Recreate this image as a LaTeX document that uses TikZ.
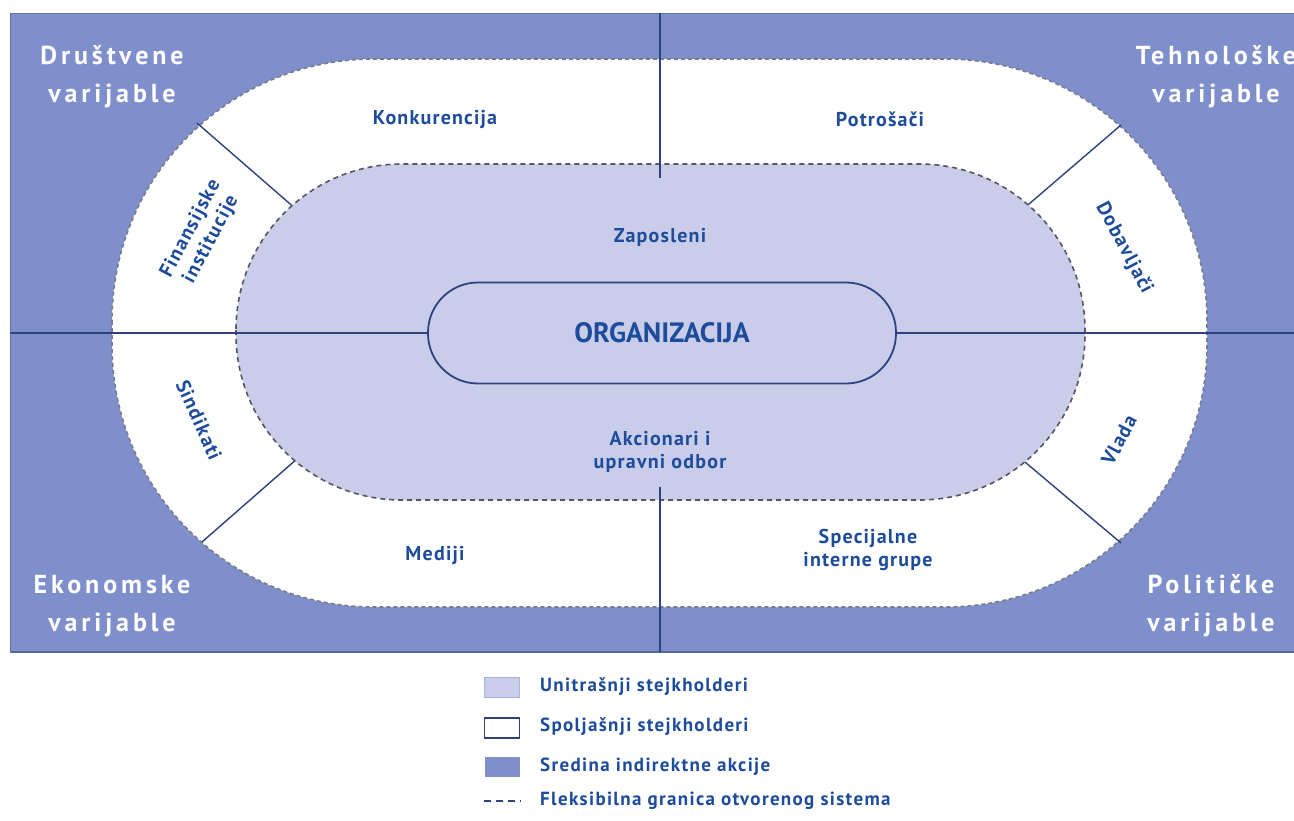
\documentclass[tikz,border=0pt]{standalone}
\usepackage{fontspec}
\setmainfont[BoldFont={PT Sans Bold}]{PT Sans}
\newfontfamily\labelfont[LetterSpace=6]{PT Sans Bold}
\newfontfamily\legendfont[LetterSpace=7]{PT Sans Bold}
\newfontfamily\widefont[LetterSpace=15]{PT Sans Bold}
\newfontfamily\orgfont{PT Sans Bold}
\definecolor{envblue}{RGB}{127,143,203}
\definecolor{innerfill}{RGB}{201,205,233}
\definecolor{labelblue}{RGB}{30,76,156}
\definecolor{rulecol}{RGB}{46,66,130}
\definecolor{dashgray}{RGB}{120,124,140}
\begin{document}
\begin{tikzpicture}[x=1pt,y=-1pt,
  inlabel/.style={font=\labelfont\fontsize{20}{23}\selectfont, text=labelblue, align=center, inner sep=0pt},
  varlabel/.style={font=\widefont\fontsize{26}{38}\selectfont, text=white, align=center, inner sep=0pt},
  legtext/.style={font=\legendfont\fontsize{19}{22}\selectfont, text=labelblue, anchor=west, inner sep=0pt},
  divider/.style={draw=rulecol, line width=1.4pt},
  swatch/.style={minimum width=35pt, minimum height=20pt, inner sep=0pt}
]
\useasboundingbox (0,0) rectangle (1294,820);
\fill[white] (0,0) rectangle (1294,820);

% environment of indirect action
\fill[envblue] (10,13) rectangle (1294,652);
\draw[rulecol!80, line width=1.2pt] (10,652) -- (1294,652);
\draw[envblue!80!black, line width=0.8pt] (10,13) -- (1294,13);
\draw[envblue!80!black, line width=0.8pt] (10,13) -- (10,652);

% external stakeholders ring
\path[fill=white, draw=dashgray, line width=1.6pt, dash pattern=on 4pt off 3pt, rounded corners=262pt]
  (112,59) rectangle (1207,607);

% dividers between external stakeholders
\coordinate (tlA) at (197,123); \coordinate (tlB) at (297,210);
\coordinate (trA) at (1121,125); \coordinate (trB) at (1022,210);
\coordinate (blA) at (202,542); \coordinate (blB) at (298,458);
\coordinate (brA) at (1121,543); \coordinate (brB) at (1019,457);
\draw[divider] (tlA) -- (tlB);
\draw[divider] (trA) -- (trB);
\draw[divider] (blA) -- (blB);
\draw[divider] (brA) -- (brB);

% internal stakeholders
\path[fill=innerfill, draw=dashgray!70!black, line width=1.6pt, dash pattern=on 5pt off 4pt, rounded corners=166pt]
  (236,164) rectangle (1085,500);

% organization
\node[draw=rulecol, line width=1.8pt, rounded corners=50pt, minimum width=468pt, minimum height=101pt,
  font=\orgfont\fontsize{28}{30}\selectfont, text=labelblue] (org) at (662,333) {ORGANIZACIJA};

% axes
\coordinate (left) at (10,333); \coordinate (right) at (1294,333);
\coordinate (top) at (660,13); \coordinate (topend) at (660,178);
\coordinate (botstart) at (660,487); \coordinate (bottom) at (660,652);
\draw[divider] (left) -- (org.west);
\draw[divider] (org.east) -- (right);
\draw[divider] (top) -- (topend);
\draw[divider] (botstart) -- (bottom);

% external stakeholder labels
\node[inlabel] (konk) at (435,119) {Konkurencija};
\node[inlabel] (potr) at (880,119) {Potrošači};
\node[inlabel] (mediji) at (435,555) {Mediji};
\node[inlabel] (spec) at (868,550) {Specijalne\\interne grupe};
\node[inlabel, rotate=62] (fin) at (201,234) {Finansijske\\institucije};
\node[inlabel, rotate=-62] (dob) at (1124,248) {Dobavljači};
\node[inlabel, rotate=-66] (sind) at (199,420) {Sindikati};
\node[inlabel, rotate=62] (vlada) at (1119,440) {Vlada};

% internal stakeholder labels
\node[inlabel] (zap) at (660,237) {Zaposleni};
\node[inlabel] (akc) at (660,452) {Akcionari i\\upravni odbor};

% variable groups
\node[varlabel] (drus) at (112,77) {Društvene\\varijable};
\node[varlabel] (teh) at (1216,77) {Tehnološke\\varijable};
\node[varlabel] (eko) at (112,606) {Ekonomske\\varijable};
\node[varlabel] (pol) at (1211,606) {Političke\\varijable};

% legend
\node[swatch, fill=innerfill, draw=innerfill!80!labelblue, line width=0.8pt] (sw1) at (502,687) {};
\node[swatch, fill=white, draw=rulecol, line width=1.4pt] (sw2) at (502,728) {};
\node[swatch, fill=envblue] (sw3) at (502,767) {};
\coordinate (dashA) at (484,801); \coordinate (dashB) at (521,801);
\draw[rulecol, line width=1.4pt, dash pattern=on 7pt off 5pt] (dashA) -- (dashB);
\node[legtext] (lg1) at (540,687) {Unitrašnji stejkholderi};
\node[legtext] (lg2) at (540,727) {Spoljašnji stejkholderi};
\node[legtext] (lg3) at (540,767) {Sredina indirektne akcije};
\node[legtext] (lg4) at (540,801) {Fleksibilna granica otvorenog sistema};
\end{tikzpicture}
\end{document}
